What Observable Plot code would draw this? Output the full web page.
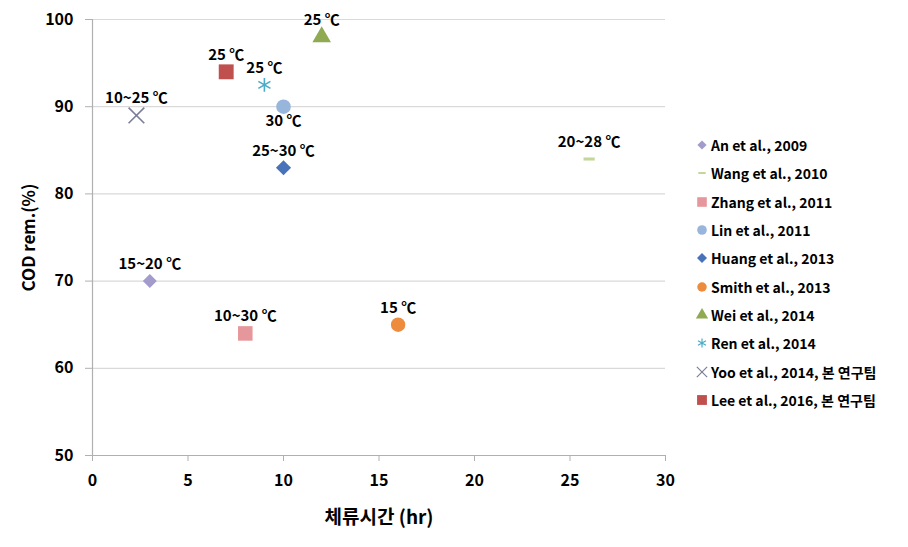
<!DOCTYPE html>
<html>
<head>
<meta charset="utf-8">
<script src="https://cdn.jsdelivr.net/npm/d3@7"></script>
<script src="https://cdn.jsdelivr.net/npm/@observablehq/plot@0.6"></script>
<style>
  html, body { margin: 0; padding: 0; background: #fff; }
  #wrap { position: relative; width: 908px; height: 547px; font-family: "Noto Sans CJK KR", "Open Sans", sans-serif; }
  #legend { position: absolute; left: 694px; top: 131px; font-weight: bold; font-size: 14px; color: #000; }
  .row { height: 28.33px; display: flex; align-items: center; white-space: nowrap; }
  .row svg { width: 16px; height: 16px; margin-right: 1px; flex: none; }
</style>
</head>
<body>
<div id="wrap"><div id="legend"></div></div>
<script>
// ---- data ----
const studies = ["An et al., 2009", "Wang et al., 2010", "Zhang et al., 2011", "Lin et al., 2011",
  "Huang et al., 2013", "Smith et al., 2013", "Wei et al., 2014", "Ren et al., 2014",
  "Yoo et al., 2014, 본 연구팀", "Lee et al., 2016, 본 연구팀"];
const hrt = [3, 26, 8, 10, 10, 16, 12, 9, 2.3, 7];               // 체류시간 (hr)
const codRem = [70, 84, 64, 90, 83, 65, 98, 92.5, 89, 94];       // COD rem. (%)
const temps = ["15~20 ℃", "20~28 ℃", "10~30 ℃", "30 ℃", "25~30 ℃", "15 ℃", "25 ℃", "25 ℃", "10~25 ℃", "25 ℃"];
const xTicks = [0, 5, 10, 15, 20, 25, 30];
const yTicks = [50, 60, 70, 80, 90, 100];

// ---- styles ----
const dash = {draw(ctx, size) { const s = Math.sqrt(size); ctx.rect(-s * 0.62, -s * 0.17, s * 1.24, s * 0.34); }};
const styles = [
  {symbol: "diamond2", color: "#a29bcb", r: 6.3, kind: "fill"},
  {symbol: dash, color: "#c4d79b", r: 5.1, kind: "fill"},
  {symbol: "square", color: "#e6979b", r: 8.2, kind: "fill"},
  {symbol: "circle", color: "#98b5dc", r: 7.3, kind: "fill"},
  {symbol: "diamond2", color: "#4873b9", r: 6.8, kind: "fill"},
  {symbol: "circle", color: "#ee8c3e", r: 7.2, kind: "fill"},
  {symbol: "triangle", color: "#8faa52", r: 6.9, kind: "fill"},
  {symbol: "asterisk", color: "#4bacc6", r: 6.6, kind: "stroke"},
  {symbol: "times", color: "#7d7f9a", r: 7.2, kind: "stroke"},
  {symbol: "square", color: "#c0504d", r: 8.4, kind: "fill"}
];
const labelBelow = [false, false, false, true, false, false, false, false, false, false];

const data = studies.map((s, i) => ({study: s, hrt: hrt[i], cod: codRem[i], temp: temps[i], i}));
const FONT = '"Noto Sans CJK KR", "Open Sans", sans-serif';

const dotMarks = data.map((d, i) => {
  const st = styles[i];
  return Plot.dot([d], st.kind === "fill"
    ? {x: "hrt", y: "cod", symbol: st.symbol, r: st.r, fill: st.color, stroke: "none"}
    : {x: "hrt", y: "cod", symbol: st.symbol, r: st.r, fill: "none", stroke: st.color, strokeWidth: 1.6});
});

const plot = Plot.plot({
  width: 908, height: 547,
  marginLeft: 92, marginRight: 243, marginTop: 19, marginBottom: 92,
  x: {domain: [0, 30]},
  y: {domain: [50, 100]},
  style: {fontFamily: FONT, fontSize: "16px", fontWeight: "bold", color: "#000", background: "transparent"},
  marks: [
    Plot.gridY(yTicks.filter(v => v > 50), {stroke: "#d9d9d9", strokeOpacity: 1, strokeWidth: 1.2}),
    Plot.ruleY([50], {stroke: "#b0b0b0", strokeWidth: 1.2}),
    Plot.ruleX([0], {stroke: "#b0b0b0", strokeWidth: 1.2}),
    Plot.axisY({ticks: yTicks, tickSize: 7, tickPadding: 12, stroke: "#b0b0b0", fill: "#000", fontSize: 16,
      label: null}),
    Plot.axisY({ticks: [], tickSize: 0, fill: "#000", fontSize: 17,
      label: "COD rem.(%)", labelAnchor: "center", labelOffset: 70, labelArrow: "none"}),
    Plot.axisX({ticks: xTicks, tickSize: 6, tickPadding: 13, stroke: "#b0b0b0", fill: "#000", fontSize: 16,
      label: null}),
    Plot.axisX({ticks: [], tickSize: 0, fill: "#000", fontSize: 19,
      label: "체류시간 (hr)", labelAnchor: "center", labelOffset: 68, labelArrow: "none"}),
    ...dotMarks,
    Plot.text(data.filter((d, i) => !labelBelow[i]), {x: "hrt", y: "cod", text: "temp", dy: -17, fontSize: 15, fill: "#000"}),
    Plot.text(data.filter((d, i) => labelBelow[i]), {x: "hrt", y: "cod", text: "temp", dy: 14, fontSize: 15, fill: "#000"})
  ]
});
const wrap = document.getElementById("wrap");
wrap.insertBefore(plot, wrap.firstChild);

// ---- legend ----
const legend = d3.select("#legend");
studies.forEach((s, i) => {
  const st = styles[i];
  const row = legend.append("div").attr("class", "row");
  const svg = row.append("svg").attr("viewBox", "-8 -8 16 16");
  const sym = typeof st.symbol === "string"
    ? {diamond2: d3.symbolDiamond2, square: d3.symbolSquare, circle: d3.symbolCircle, triangle: d3.symbolTriangle,
       asterisk: d3.symbolAsterisk, times: d3.symbolTimes}[st.symbol]
    : st.symbol;
  const rr = st.r * 0.66;
  const path = d3.symbol(sym, Math.PI * rr * rr)();
  const p = svg.append("path").attr("d", path);
  if (st.kind === "fill") p.attr("fill", st.color);
  else p.attr("fill", "none").attr("stroke", st.color).attr("stroke-width", 1.2);
  row.append("span").text(s);
});
</script>
</body>
</html>
